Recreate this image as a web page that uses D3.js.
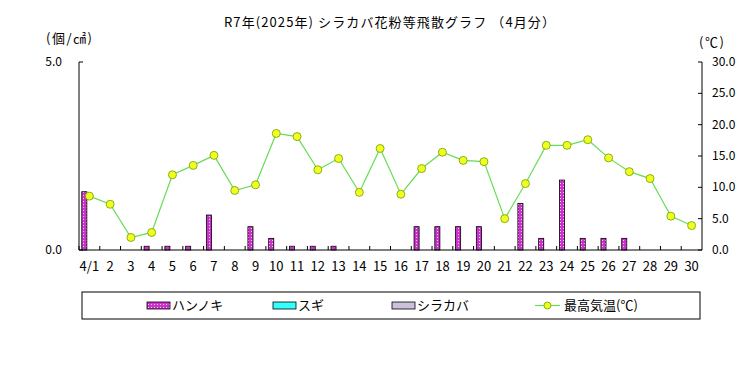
<!DOCTYPE html>
<html>
<head>
<meta charset="utf-8">
<script src="https://cdn.jsdelivr.net/npm/d3@7"></script>
<style>
  body { margin: 0; background: #fff; }
  text { font-family: "Noto Sans CJK JP", sans-serif; font-size: 12px; fill: #000; }
</style>
</head>
<body>
<div id="wrapper"></div>
<script>
// data
const days = ["4/1","2","3","4","5","6","7","8","9","10","11","12","13","14","15",
              "16","17","18","19","20","21","22","23","24","25","26","27","28","29","30"]
const hannoki = [1.55,0,0,0.1,0.1,0.1,0.93,0,0.62,0.31,0.1,0.1,0.1,0,0,
                 0,0.62,0.62,0.62,0.62,0,1.24,0.31,1.86,0.31,0.31,0.31,0,0,0]
const sugi = days.map(() => 0)
const shirakaba = days.map(() => 0)
const maxTemp = [8.6,7.3,2.0,2.8,12.0,13.5,15.1,9.5,10.4,18.6,18.1,12.8,14.6,9.2,16.2,
                 8.9,13.0,15.6,14.3,14.1,5.0,10.6,16.7,16.7,17.6,14.7,12.5,11.4,5.4,3.9]
const leftTicks = [0, 5]
const rightTicks = [0, 5, 10, 15, 20, 25, 30]
const seriesNames = ["ハンノキ", "スギ", "シラカバ"]
const seriesColors = ["url(#dots)", "#33ffff", "#ccc0da"]

//dimensions
let dimensions = {
  width: 756,
  height: 378,
  margin: { top: 62, bottom: 128, left: 79, right: 54 }
}
dimensions.boundedWidth = dimensions.width - dimensions.margin.left - dimensions.margin.right
dimensions.boundedHeight = dimensions.height - dimensions.margin.top - dimensions.margin.bottom

const svg = d3.select("#wrapper").append("svg")
    .attr("width", dimensions.width)
    .attr("height", dimensions.height)

// dotted pattern for ハンノキ
const pat = svg.append("defs").append("pattern")
    .attr("id", "dots")
    .attr("width", 3).attr("height", 3)
    .attr("patternUnits", "userSpaceOnUse")
pat.append("rect").attr("width", 3).attr("height", 3).attr("fill", "#cc33cc")
pat.append("rect").attr("x", 1).attr("y", 1).attr("width", 1).attr("height", 1).attr("fill", "#ffccff")

const bounds = svg.append("g")
    .attr("transform", `translate(${dimensions.margin.left},${dimensions.margin.top})`)

// scales
const xScale = d3.scaleBand()
    .domain(days)
    .range([0, dimensions.boundedWidth])
const xSub = d3.scaleBand()
    .domain(seriesNames)
    .range([0, xScale.bandwidth()])
    .paddingOuter(0.55)
const yLeft = d3.scaleLinear().domain([0, 5]).range([dimensions.boundedHeight, 0])
const yRight = d3.scaleLinear().domain([0, 30]).range([dimensions.boundedHeight, 0])

// bars
const seriesData = [hannoki, sugi, shirakaba]
seriesData.forEach((vals, si) => {
  bounds.append("g").selectAll("rect")
    .data(vals)
    .join("rect")
      .attr("x", (d, i) => xScale(days[i]) + xSub(seriesNames[si]))
      .attr("y", d => yLeft(d))
      .attr("width", xSub.bandwidth())
      .attr("height", d => yLeft(0) - yLeft(d))
      .attr("fill", seriesColors[si])
      .attr("stroke", "#000")
      .attr("stroke-width", 0.8)
      .style("display", d => d > 0 ? null : "none")
})

// axes lines
bounds.append("line")
    .attr("x1", 0).attr("x2", 0).attr("y1", 0).attr("y2", dimensions.boundedHeight)
    .attr("stroke", "#000")
bounds.append("line")
    .attr("x1", dimensions.boundedWidth).attr("x2", dimensions.boundedWidth)
    .attr("y1", 0).attr("y2", dimensions.boundedHeight)
    .attr("stroke", "#000")
bounds.append("line")
    .attr("x1", 0).attr("x2", dimensions.boundedWidth)
    .attr("y1", dimensions.boundedHeight).attr("y2", dimensions.boundedHeight)
    .attr("stroke", "#000")

// left ticks
bounds.selectAll(".lt").data(leftTicks).join("line")
    .attr("x1", 0).attr("x2", 4)
    .attr("y1", d => yLeft(d)).attr("y2", d => yLeft(d))
    .attr("stroke", "#000")
bounds.selectAll(".ll").data(leftTicks).join("text")
    .attr("x", -17).attr("y", d => yLeft(d) + 4)
    .attr("text-anchor", "end")
    .text(d => d.toFixed(1))

// right ticks
bounds.selectAll(".rt").data(rightTicks).join("line")
    .attr("x1", dimensions.boundedWidth - 4).attr("x2", dimensions.boundedWidth)
    .attr("y1", d => yRight(d)).attr("y2", d => yRight(d))
    .attr("stroke", "#000")
bounds.selectAll(".rl").data(rightTicks).join("text")
    .attr("x", dimensions.boundedWidth + 10).attr("y", d => yRight(d) + 4)
    .text(d => d.toFixed(1))

// category ticks
bounds.selectAll(".ct").data(days).join("line")
    .attr("x1", d => xScale(d)).attr("x2", d => xScale(d))
    .attr("y1", dimensions.boundedHeight - 4).attr("y2", dimensions.boundedHeight)
    .attr("stroke", "#000")
bounds.selectAll(".cl").data(days).join("text")
    .attr("x", d => xScale(d) + xScale.bandwidth() / 2)
    .attr("y", dimensions.boundedHeight + 21)
    .attr("text-anchor", "middle")
    .style("font-size", "13px")
    .text(d => d)

// temperature line
const lineGen = d3.line()
    .x((d, i) => xScale(days[i]) + xScale.bandwidth() / 2)
    .y(d => yRight(d))
bounds.append("path")
    .datum(maxTemp)
    .attr("d", lineGen)
    .attr("fill", "none")
    .attr("stroke", "#66dd55")
    .attr("stroke-width", 1.2)
bounds.selectAll(".pt").data(maxTemp).join("circle")
    .attr("cx", (d, i) => xScale(days[i]) + xScale.bandwidth() / 2)
    .attr("cy", d => yRight(d))
    .attr("r", 4)
    .attr("fill", "#eeff22")
    .attr("stroke", "#779900")
    .attr("stroke-width", 0.8)

// titles
svg.append("text")
    .attr("x", 390).attr("y", 27)
    .attr("text-anchor", "middle")
    .style("font-size", "13px")
    .style("letter-spacing", "1.1px")
    .text("R7年(2025年) シラカバ花粉等飛散グラフ （4月分）")
svg.append("text")
    .attr("x", 46).attr("y", 43)
    .style("font-size", "13px")
    .style("letter-spacing", "1.5px")
    .text("(個/㎠)")
svg.append("text")
    .attr("x", 699).attr("y", 47)
    .style("font-size", "13px")
    .style("letter-spacing", "1.5px")
    .text("(℃)")

// legend
const legend = svg.append("g")
svg.append("rect")
    .attr("x", 82).attr("y", 292).attr("width", 618).attr("height", 27)
    .attr("fill", "none").attr("stroke", "#000")
const legX = [147, 273, 392]
seriesNames.forEach((name, i) => {
  legend.append("rect")
      .attr("x", legX[i]).attr("y", 302).attr("width", 23).attr("height", 7)
      .attr("fill", seriesColors[i]).attr("stroke", "#000").attr("stroke-width", 0.8)
  legend.append("text")
      .attr("x", legX[i] + 25).attr("y", 310)
      .style("font-size", "13px")
      .text(name)
})
legend.append("line")
    .attr("x1", 535).attr("x2", 560).attr("y1", 305.5).attr("y2", 305.5)
    .attr("stroke", "#66dd55").attr("stroke-width", 1.2)
legend.append("circle")
    .attr("cx", 547.5).attr("cy", 305.5).attr("r", 3.5)
    .attr("fill", "#eeff22").attr("stroke", "#779900").attr("stroke-width", 0.8)
legend.append("text")
    .attr("x", 564).attr("y", 310)
    .style("font-size", "13px")
    .text("最高気温(℃)")
</script>
</body>
</html>
